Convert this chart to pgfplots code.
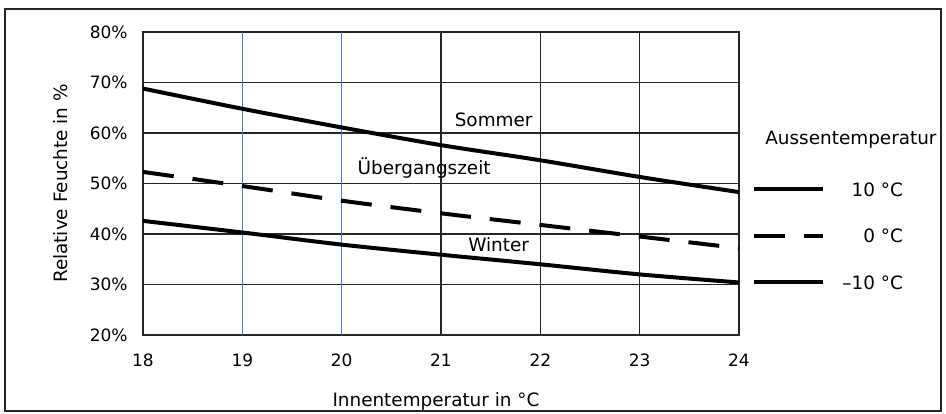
\documentclass[border=0pt]{standalone}
\usepackage{pgfplots}
\pgfplotsset{compat=1.18}
\usepackage{fontspec}
\setmainfont{DejaVu Sans}
\definecolor{gridblue}{RGB}{70,125,200}
\begin{document}
\fontsize{9.2bp}{11bp}\selectfont
\begin{tikzpicture}
\useasboundingbox (0,0) rectangle (473bp,207bp);
\begin{axis}[
  at={(71.5bp,39.5bp)}, anchor=south west,
  scale only axis, width=298bp, height=151.5bp,
  xmin=18, xmax=24, ymin=20, ymax=80,
  xtick={18,21,22,23,24}, ytick={20,30,...,80},
  extra x ticks={19,20},
  extra x tick style={grid=major, major grid style={line width=0.8bp, draw=gridblue}},
  grid=major, major grid style={line width=0.8bp, black!85},
  axis line style={line width=0.8bp, black!85},
  major tick length=0pt,
  clip mode=individual,
  /pgf/number format/assume math mode=true,
  yticklabel={\pgfmathprintnumber{\tick}\%},
  yticklabel style={inner sep=0pt, anchor=east, xshift=-7.5bp},
  xticklabel style={inner sep=0pt, anchor=north, yshift=-9bp},
  tick label style={font=\fontsize{8.5bp}{10bp}\selectfont},
  label style={font=\fontsize{9.2bp}{11bp}\selectfont},
  xlabel={Innentemperatur in °C},
  ylabel={Relative Feuchte in \%},
  xlabel style={at={(rel axis cs:0.5,0)}, anchor=base, yshift=-35.5bp, xshift=-2.5bp, inner sep=0pt},
  ylabel style={at={(rel axis cs:0,0.5)}, anchor=center, yshift=41bp},
  legend image code/.code={\draw[#1] (0bp,0bp) -- (34.5bp,0bp);},
  legend style={at={(rel axis cs:1.0218,0.505)}, anchor=north west, draw=none, fill=none,
    inner sep=0pt, row sep=16.25bp, column sep=8.5bp,
    nodes={inner sep=0pt, text height=7bp, text depth=0pt, font=\fontsize{9.2bp}{11bp}\selectfont}},
  legend cell align=right,
]
\addplot[black, line width=2bp, smooth] coordinates {(18,68.8)(19,64.8)(20,61.1)(21,57.6)(22,54.6)(23,51.3)(24,48.3)};
\addlegendentry{10 °C}
\addplot[black, line width=2bp, smooth, dash pattern=on 15.5bp off 9.5bp] coordinates {(18,52.3)(19,49.5)(20,46.6)(21,44.1)(22,41.8)(23,39.5)(24,37.2)};
\addlegendentry{0 °C}
\addplot[black, line width=2bp, smooth] coordinates {(18,42.6)(19,40.3)(20,37.9)(21,35.9)(22,34.0)(23,32.0)(24,30.4)};
\addlegendentry{–10 °C}
\node at (axis cs:21.53,62.6) {Sommer};
\node at (axis cs:20.83,53.0) {Übergangszeit};
\node at (axis cs:21.58,37.8) {Winter};
\node[anchor=west] at (axis cs:24.2,58.6) {Aussentemperatur};
\end{axis}
\draw[line width=0.8bp, black!85] (2.5bp,1.5bp) rectangle (470.5bp,202.5bp);
\end{tikzpicture}
\end{document}
